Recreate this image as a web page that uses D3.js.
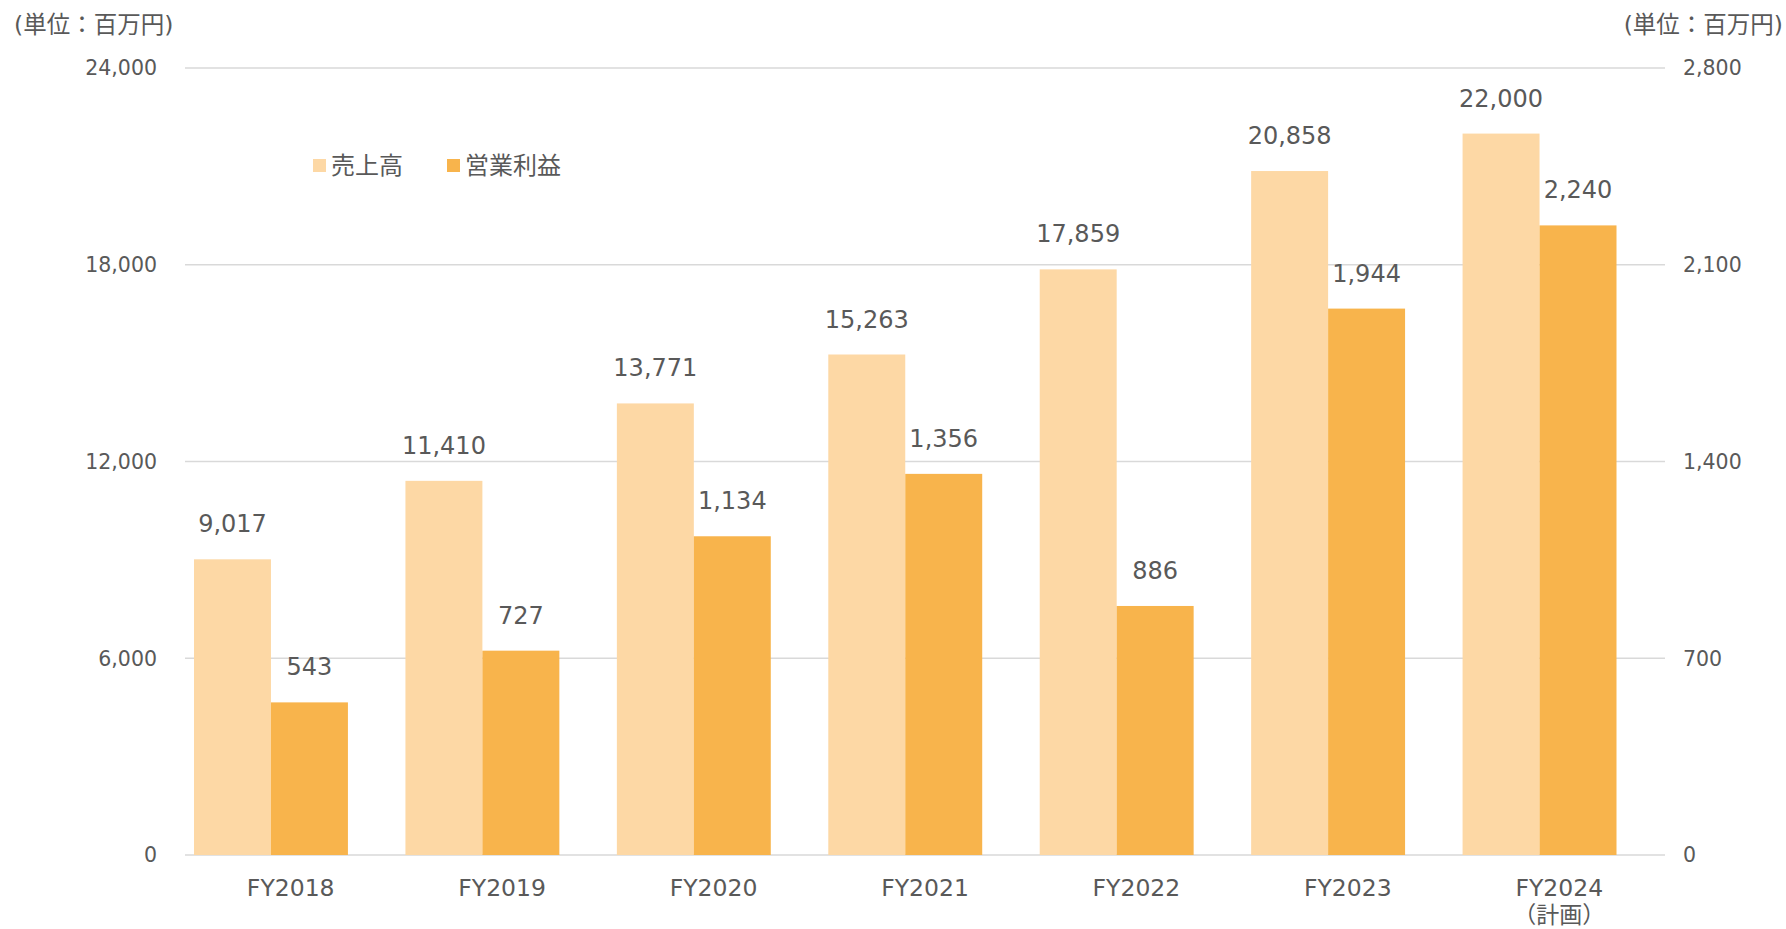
<!DOCTYPE html>
<html><head><meta charset="utf-8">
<script src="https://cdn.jsdelivr.net/npm/d3@7"></script>
<style>
html,body{margin:0;padding:0;background:#fff;}
text{font-family:"DejaVu Sans","Noto Sans CJK JP",sans-serif;fill:#595959;}
</style></head>
<body>
<svg id="chart" width="1786" height="929"></svg>
<script>
const categories = ["FY2018","FY2019","FY2020","FY2021","FY2022","FY2023","FY2024"];
const categorySub = ["","","","","","","（計画）"];
const sales = [9017, 11410, 13771, 15263, 17859, 20858, 22000];
const profit = [543, 727, 1134, 1356, 886, 1944, 2240];
const leftTicks = [0, 6000, 12000, 18000, 24000];
const rightTicks = [0, 700, 1400, 2100, 2800];
const seriesNames = ["売上高", "営業利益"];
const unitLabel = "(単位：百万円)";

const W = 1786, H = 929;
const plot = {left: 185, right: 1665, top: 68, bottom: 855};
const colSales = "#FDD8A5", colProfit = "#F8B44C";
const svg = d3.select("#chart");
const fmt = d3.format(",");

const x = d3.scaleBand().domain(categories).range([plot.left, plot.right]).padding(0);
const yL = d3.scaleLinear().domain([0, 24000]).range([plot.bottom, plot.top]);
const yR = d3.scaleLinear().domain([0, 2800]).range([plot.bottom, plot.top]);
const bw = x.bandwidth();
const barOff = bw * 0.0426, barW = bw * 0.364;

// gridlines
svg.append("g").selectAll("line").data(leftTicks).join("line")
  .attr("x1", plot.left).attr("x2", plot.right)
  .attr("y1", d => yL(d)).attr("y2", d => yL(d))
  .attr("stroke", "#D9D9D9").attr("stroke-width", 1.5);

// left axis labels
svg.append("g").selectAll("text").data(leftTicks).join("text")
  .attr("x", 157).attr("y", d => yL(d)).attr("dy", "0.36em")
  .attr("text-anchor", "end").attr("font-size", 20.5).text(d => fmt(d));
// right axis labels
svg.append("g").selectAll("text").data(rightTicks).join("text")
  .attr("x", 1683).attr("y", d => yR(d)).attr("dy", "0.36em")
  .attr("text-anchor", "start").attr("font-size", 20.5).text(d => fmt(d));

// unit labels
svg.append("text").attr("x", 14).attr("y", 25).attr("dy", "0.36em")
  .attr("font-size", 23.5).text(unitLabel);
svg.append("text").attr("x", 1783).attr("y", 25).attr("dy", "0.36em")
  .attr("text-anchor", "end").attr("font-size", 23.5).text(unitLabel);

// bars
const g = svg.append("g");
g.selectAll("rect.s").data(sales).join("rect").attr("class","s")
  .attr("x", (d,i) => x(categories[i]) + barOff).attr("width", barW)
  .attr("y", d => yL(d)).attr("height", d => plot.bottom - yL(d))
  .attr("fill", colSales);
g.selectAll("rect.p").data(profit).join("rect").attr("class","p")
  .attr("x", (d,i) => x(categories[i]) + barOff + barW).attr("width", barW)
  .attr("y", d => yR(d)).attr("height", d => plot.bottom - yR(d))
  .attr("fill", colProfit);

// data labels
g.selectAll("text.sl").data(sales).join("text").attr("class","sl")
  .attr("x", (d,i) => x(categories[i]) + barOff + barW/2)
  .attr("y", d => yL(d) - 27).attr("text-anchor", "middle")
  .attr("font-size", 24).text(d => fmt(d));
g.selectAll("text.pl").data(profit).join("text").attr("class","pl")
  .attr("x", (d,i) => x(categories[i]) + barOff + barW*1.5)
  .attr("y", d => yR(d) - 27).attr("text-anchor", "middle")
  .attr("font-size", 24).text(d => fmt(d));

// category labels
svg.append("g").selectAll("text").data(categories).join("text")
  .attr("x", d => x(d) + bw/2).attr("y", 896)
  .attr("text-anchor", "middle").attr("font-size", 23.5).text(d => d);
svg.append("g").selectAll("text").data(categorySub).join("text")
  .attr("x", (d,i) => x(categories[i]) + bw/2).attr("y", 923)
  .attr("text-anchor", "middle").attr("font-size", 23).text(d => d);

// legend
const legendX = [313, 447];
const leg = svg.append("g").selectAll("g").data(seriesNames).join("g")
  .attr("transform", (d,i) => `translate(${legendX[i]},159)`);
leg.append("rect").attr("width", 13).attr("height", 13)
  .attr("fill", (d,i) => i === 0 ? colSales : colProfit);
leg.append("text").attr("x", 18).attr("y", 6.5).attr("dy", "0.36em")
  .attr("font-size", 24).text(d => d);
</script>
</body></html>
